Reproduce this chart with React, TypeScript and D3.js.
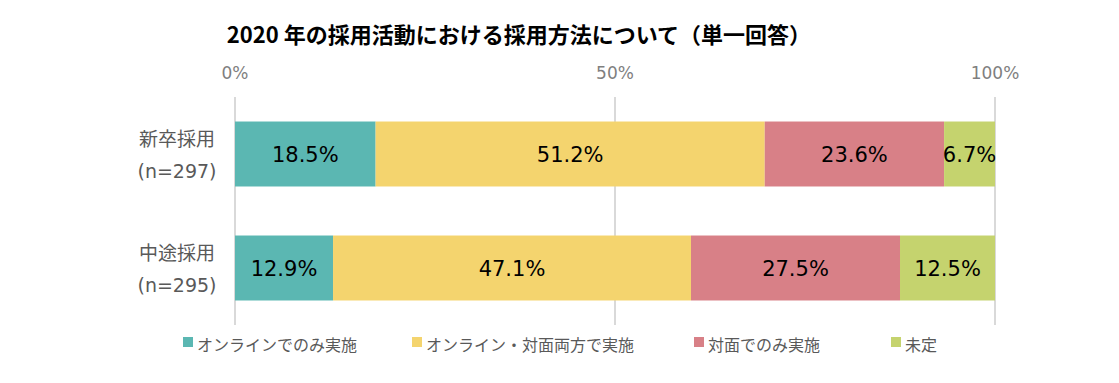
import React from "react";
import * as d3 from "d3";

const categories = ["新卒採用", "中途採用"];
const sampleSizes = ["(n=297)", "(n=295)"];
const seriesNames = ["オンラインでのみ実施", "オンライン・対面両方で実施", "対面でのみ実施", "未定"];
const onlineOnly = [18.5, 12.9];
const both = [51.2, 47.1];
const faceOnly = [23.6, 27.5];
const undecided = [6.7, 12.5];
const tickValues = [0, 50, 100];
const colors = ["#5BB7B2", "#F4D46E", "#D88087", "#C5D36E"];

const series = [onlineOnly, both, faceOnly, undecided];

export default function App() {
  const W = 1119, H = 383;
  const x = d3.scaleLinear().domain([0, 100]).range([235, 995]);
  const y = d3.scaleBand().domain(categories).range([97, 325]).paddingInner(0.43).paddingOuter(0.215);
  const cjk = "'Noto Sans CJK JP', 'Noto Sans', sans-serif";
  const font = "'DejaVu Sans', 'Noto Sans CJK JP', sans-serif";
  const legendX = [183, 412, 694, 891];

  return (
    <svg width={W} height={H} style={{ position: "absolute", left: 0, top: 0 }} fontFamily={font}>
      <rect width={W} height={H} fill="#fff" />
      <text x={519} y={43} textAnchor="middle" fontSize={22} fontWeight="bold" fill="#000" fontFamily={cjk}>
        2020 年の採用活動における採用方法について（単一回答）
      </text>
      {tickValues.map((t) => (
        <g key={t}>
          <text x={x(t)} y={79} textAnchor="middle" fontSize={17} fill="#7f7f7f">{t}%</text>
          <line x1={x(t)} x2={x(t)} y1={97} y2={325} stroke="#d9d9d9" strokeWidth={2} />
        </g>
      ))}
      {categories.map((c, i) => {
        let acc = 0;
        const y0 = y(c)!;
        const bh = y.bandwidth();
        return (
          <g key={c}>
            <text x={177} y={y0 + bh / 2 - 8} textAnchor="middle" fontSize={19} fill="#595959" fontFamily={cjk}>{c}</text>
            <text x={177} y={y0 + bh / 2 + 24} textAnchor="middle" fontSize={19} fill="#595959">{sampleSizes[i]}</text>
            {series.map((s, j) => {
              const v = s[i];
              const x0 = x(acc);
              acc += v;
              const x1 = x(acc);
              return (
                <g key={j}>
                  <rect x={x0} y={y0} width={x1 - x0} height={bh} fill={colors[j]} />
                  <text x={(x0 + x1) / 2} y={y0 + bh / 2 + 8} textAnchor="middle" fontSize={21} fill="#000">
                    {v.toFixed(1)}%
                  </text>
                </g>
              );
            })}
          </g>
        );
      })}
      {seriesNames.map((n, j) => (
        <g key={n}>
          <rect x={legendX[j]} y={337} width={10} height={10} fill={colors[j]} />
          <text x={legendX[j] + 14} y={351} fontSize={16} fill="#595959" fontFamily={cjk}>{n}</text>
        </g>
      ))}
    </svg>
  );
}
